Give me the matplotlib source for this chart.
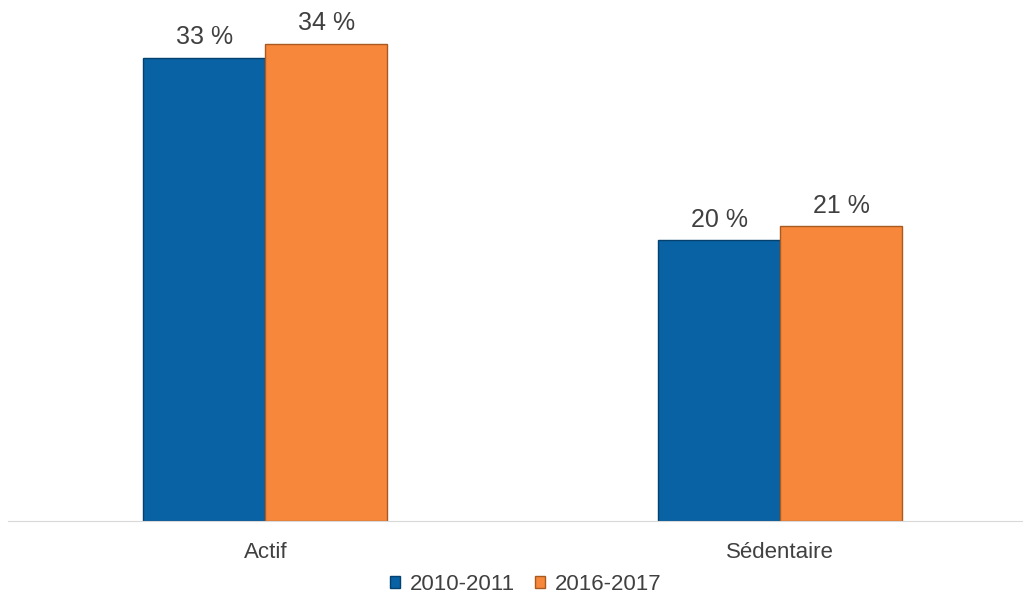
import matplotlib.pyplot as plt
import numpy as np

plt.rcParams['font.family'] = ['Liberation Sans', 'DejaVu Sans']

categories = ["Actif", "Sédentaire"]
serie_2010 = [33, 20]
serie_2016 = [34, 21]
series_labels = ["2010-2011", "2016-2017"]

blue = "#0862A4"
orange = "#F7873A"
text_color = "#404040"

fig = plt.figure(figsize=(10.27, 5.94), dpi=100)
ax = fig.add_axes([8 / 1027, 73 / 594, (1022 - 8) / 1027, 521 / 594])

x = np.arange(len(categories))
w = 0.237

b1 = ax.bar(x - w / 2, serie_2010, w, color=blue, edgecolor="#04416e",
            linewidth=1.0, label=series_labels[0])
b2 = ax.bar(x + w / 2, serie_2016, w, color=orange, edgecolor="#a85a20",
            linewidth=1.0, label=series_labels[1])

for bars in (b1, b2):
    for rect in bars:
        h = rect.get_height()
        ax.text(rect.get_x() + rect.get_width() / 2, h + 0.6, f"{h:g} %",
                ha="center", va="bottom", fontsize=18, color=text_color)

ax.set_xlim(-0.5, 1.47)
ax.set_ylim(0, 37.1)
ax.set_xticks(x)
ax.set_xticklabels(categories, fontsize=16, color=text_color)
ax.tick_params(axis="x", length=0, pad=15)
ax.set_yticks([])
for s in ["top", "right", "left"]:
    ax.spines[s].set_visible(False)
ax.spines["bottom"].set_color("#d9d9d9")

fig.legend(loc="center", bbox_to_anchor=(526 / 1027, 10 / 594), ncol=2, frameon=False,
           fontsize=16, handlelength=0.45, handleheight=0.45, handletextpad=0.45,
           columnspacing=0.9, labelcolor=text_color)

fig.savefig("out.png", dpi=100)
